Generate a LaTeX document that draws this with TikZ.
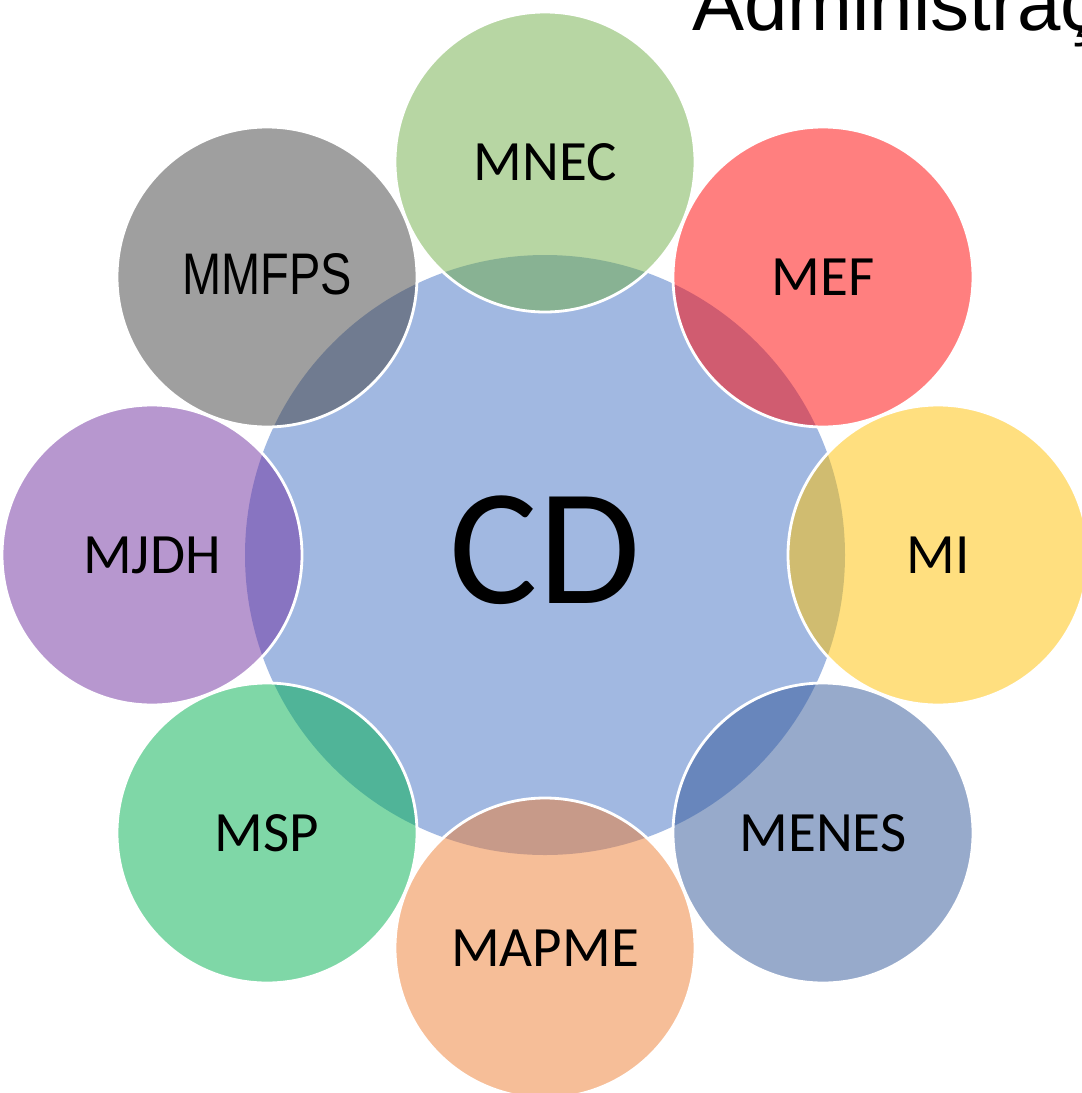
\documentclass[tikz,border=0pt]{standalone}
\usepackage{fontspec}
\setmainfont{Carlito}
\newfontfamily\arialfont{Liberation Sans}
\newfontfamily\narrowfont[FakeStretch=0.80]{Liberation Sans}
\definecolor{cblue}{HTML}{4472C4}
\definecolor{cgreen}{HTML}{70AD47}
\definecolor{cred}{HTML}{FF0000}
\definecolor{cyellow}{HTML}{FFC000}
\definecolor{cdblue}{HTML}{2F5597}
\definecolor{corange}{HTML}{ED7D31}
\definecolor{cmint}{HTML}{00B050}
\definecolor{cpurple}{HTML}{7030A0}
\definecolor{cgray}{HTML}{404040}
\tikzset{
  hub/.style={circle, minimum size=600pt, inner sep=0pt, fill=cblue, fill opacity=0.5, draw=none},
  sat/.style={circle, minimum size=300pt, inner sep=0pt, fill=#1, fill opacity=0.5, draw=white, draw opacity=1, line width=2.8pt},
  lbl/.style={anchor=base, inner sep=0pt, font=\fontsize{57}{60}\selectfont, text=black},
}
\begin{document}
\begin{tikzpicture}[x=1pt, y=-1pt]
\useasboundingbox (0,0) rectangle (1082,1093);
\clip (0,0) rectangle (1082,1093);
\node[hub] (cd) at (545,555) {};
\node[sat=cgreen]  (mnec)  at (545,162) {};
\node[sat=cred]    (mef)   at (823,277) {};
\node[sat=cyellow] (mi)    at (938,555) {};
\node[sat=cdblue]  (menes) at (823,833) {};
\node[sat=corange] (mapme) at (545,948) {};
\node[sat=cmint]   (msp)   at (267,833) {};
\node[sat=cpurple] (mjdh)  at (152,555) {};
\node[sat=cgray]   (mmfps) at (267,277) {};
\node[lbl, font=\fontsize{166}{170}\selectfont] (cdT) at ([yshift=-48pt]cd.center) {CD};
\node[lbl] (mnecT)  at ([yshift=-18pt]mnec.center)  {MNEC};
\node[lbl] (mefT)   at ([yshift=-18pt]mef.center)   {MEF};
\node[lbl] (miT)    at ([yshift=-18pt]mi.center)    {MI};
\node[lbl] (menesT) at ([yshift=-18pt]menes.center) {MENES};
\node[lbl] (mapmeT) at ([yshift=-18pt]mapme.center) {MAPME};
\node[lbl] (mspT)   at ([yshift=-18pt]msp.center)   {MSP};
\node[lbl] (mjdhT)  at ([yshift=-18pt]mjdh.center)  {MJDH};
\node[lbl, font=\narrowfont\fontsize{58.7}{62}\selectfont] (mmfpsT) at ([yshift=-17pt]mmfps.center) {MMFPS};
\node[anchor=base west, inner sep=0pt, font=\arialfont\fontsize{78}{80}\selectfont] (title) at (692,30) {Administraç};
\end{tikzpicture}
\end{document}
